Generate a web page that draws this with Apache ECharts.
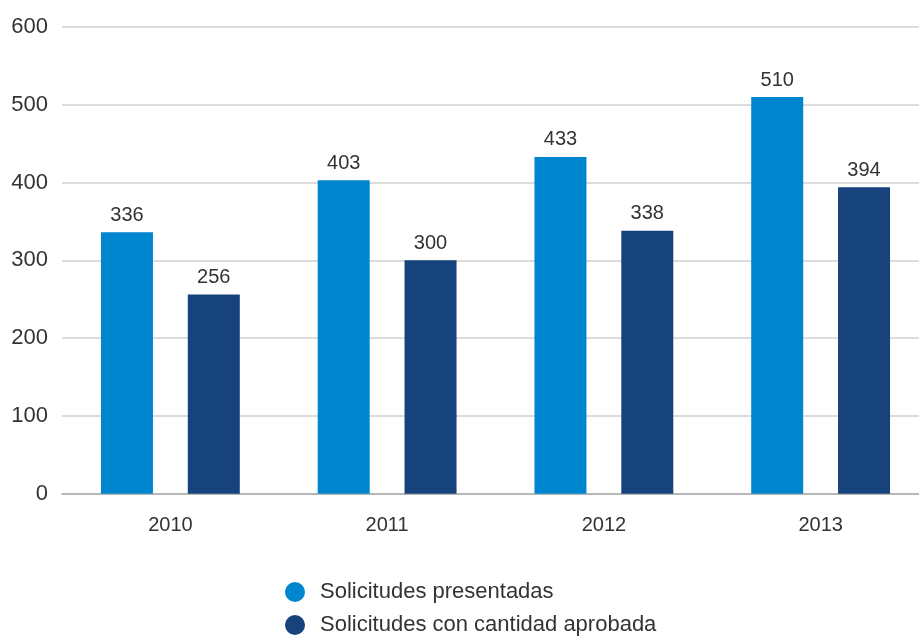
<!DOCTYPE html>
<html>
<head>
<meta charset="utf-8">
<script src="https://cdn.jsdelivr.net/npm/echarts@6/dist/echarts.min.js"></script>
<style>html,body{margin:0;padding:0;background:#fff}#c{width:919px;height:637px}</style>
</head>
<body>
<div id="c"></div>
<script>
const categories = ['2010', '2011', '2012', '2013'];
const presentadas = [336, 403, 433, 510];
const aprobadas = [256, 300, 338, 394];
const yTicks = [0, 100, 200, 300, 400, 500, 600];
const seriesNames = ['Solicitudes presentadas', 'Solicitudes con cantidad aprobada'];

const FONT = '"Liberation Sans", Arial, Helvetica, sans-serif';
const chart = echarts.init(document.getElementById('c'), null, {renderer: 'canvas'});
const labelCfg = {show: true, position: 'top', distance: 7, color: '#333', fontSize: 20, fontFamily: FONT};
const legendBase = {
  orient: 'horizontal', left: 285, padding: 0,
  icon: 'circle', itemWidth: 20, itemHeight: 20,
  textStyle: {color: '#333', fontSize: 22, fontFamily: FONT, padding: [0, 0, 0, 10]}
};
chart.setOption({
  animation: false,
  backgroundColor: '#fff',
  grid: {left: 62, top: 27, width: 867, height: 466.7, containLabel: false, outerBoundsMode: 'none'},
  xAxis: {
    type: 'category', data: categories,
    axisLine: {show: true, lineStyle: {color: '#aaa', width: 1.5}},
    axisTick: {show: false},
    axisLabel: {color: '#333', fontSize: 20, fontFamily: FONT, margin: 22}
  },
  yAxis: {
    type: 'value', min: yTicks[0], max: yTicks[yTicks.length - 1], interval: 100,
    axisLine: {show: false}, axisTick: {show: false},
    splitLine: {lineStyle: {color: '#d0d0d0', width: 1.5}},
    axisLabel: {color: '#333', fontSize: 22, fontFamily: FONT, margin: 14}
  },
  legend: [
    Object.assign({}, legendBase, {top: 581, data: [seriesNames[0]]}),
    Object.assign({}, legendBase, {top: 614, data: [seriesNames[1]]})
  ],
  series: [
    {name: seriesNames[0], type: 'bar', data: presentadas, barWidth: 52, barGap: '67%',
     itemStyle: {color: '#0086CE'}, label: labelCfg},
    {name: seriesNames[1], type: 'bar', data: aprobadas, barWidth: 52, barGap: '67%',
     itemStyle: {color: '#16437B'}, label: labelCfg}
  ]
});
</script>
</body>
</html>
